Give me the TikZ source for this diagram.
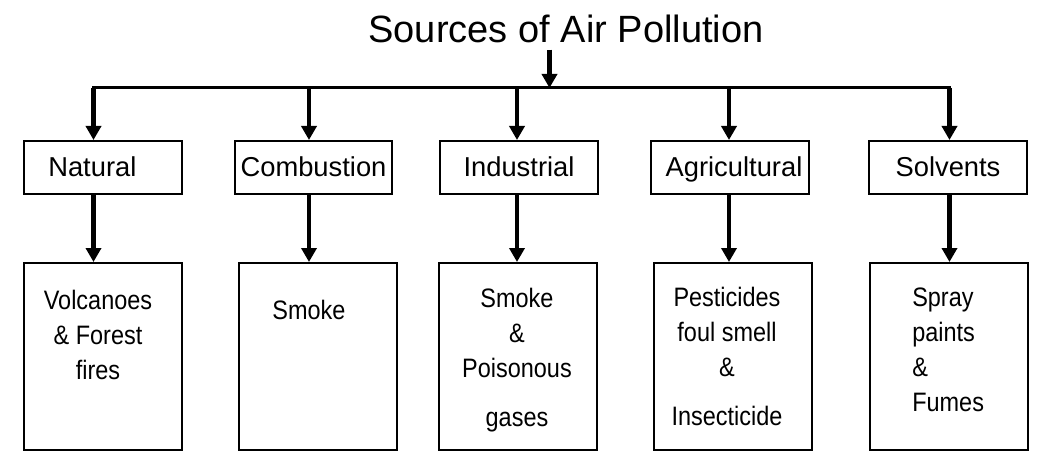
\documentclass[tikz,border=0pt]{standalone}
\usepackage{fontspec}
\setmainfont{Liberation Sans}
\newfontfamily\narrowfont{Liberation Sans}[FakeStretch=0.88]
\usetikzlibrary{positioning,calc,arrows.meta}

\begin{document}
\begin{tikzpicture}[x=0.75pt, y=-0.75pt,
    srcbox/.style={draw, line width=1.5pt, minimum width=118pt, minimum height=39.75pt, inner sep=0pt,
        text height=14pt, text depth=0pt, font=\fontsize{20.5}{24}\selectfont},
    outbox/.style={draw, line width=1.5pt, minimum width=118.5pt, minimum height=140.25pt, inner sep=0pt},
    outtext/.style={anchor=north, inner sep=0pt, align=center, font=\narrowfont\fontsize{20}{26.25}\selectfont},
    conn/.style={line width=3.3pt, -{Triangle[width=11.25pt, length=10.5pt]}}]
    \useasboundingbox (0,0) rectangle (1057,467);

    % title and the bus below it
    \node [font=\fontsize{28.5}{34}\selectfont, anchor=base, inner xsep=0pt, inner ysep=4.5pt] (title) at (566,43) {Sources of Air Pollution};
    \coordinate (bus) at (549.5,88);
    \coordinate (b1) at (93.5,88);
    \coordinate (b2) at (309,88);
    \coordinate (b3) at (517,88);
    \coordinate (b4) at (729,88);
    \coordinate (b5) at (949.5,88);

    % sources
    \node [srcbox] (natural) at (103,167.5) {Natural\hspace*{16pt}};
    \node [srcbox] (combustion) at (313.5,167.5) {Combustion};
    \node [srcbox] (industrial) at (519,167.5) {Industrial};
    \node [srcbox] (agricultural) at (730,167.5) {\hspace*{6pt}Agricultural};
    \node [srcbox] (solvents) at (948,167.5) {Solvents};

    % what each one gives off
    \node [outbox] (volcanoes) at (103,356.5) {};
    \node [outbox] (smoke) at (317.5,356.5) {};
    \node [outbox] (gases) at (518,356.5) {};
    \node [outbox] (pesticides) at (732.7,356.5) {};
    \node [outbox] (fumes) at (948.8,356.5) {};

    \node [outtext] (volctext) at (98,289.5) {Volcanoes\\\& Forest\\fires};
    \node [outtext] (smoketext) at (309,300.2) {Smoke};
    \node [outtext] (gastext) at (517,287.9) {Smoke\\\&\\Poisonous\\[10.4pt]gases};
    \node [outtext] (pesttext) at (727,287.2) {Pesticides\\foul smell\\\&\\[10.4pt]Insecticide};
    \node [outtext, anchor=north west, align=left] (fumetext) at (912,287.2) {Spray\\paints\\\&\\Fumes};

    % connectors
    \draw [conn] (title.south -| bus) -- (bus);
    \draw [line width=2.25pt, line cap=rect] (b1) -- (b5);
    \foreach \b/\src/\out in {b1/natural/volcanoes, b2/combustion/smoke, b3/industrial/gases,
                              b4/agricultural/pesticides, b5/solvents/fumes} {
        \draw [conn] (\b) -- (\b |- \src.north);
        \draw [conn] (\src.south -| \b) -- (\b |- \out.north);
    }
\end{tikzpicture}
\end{document}
